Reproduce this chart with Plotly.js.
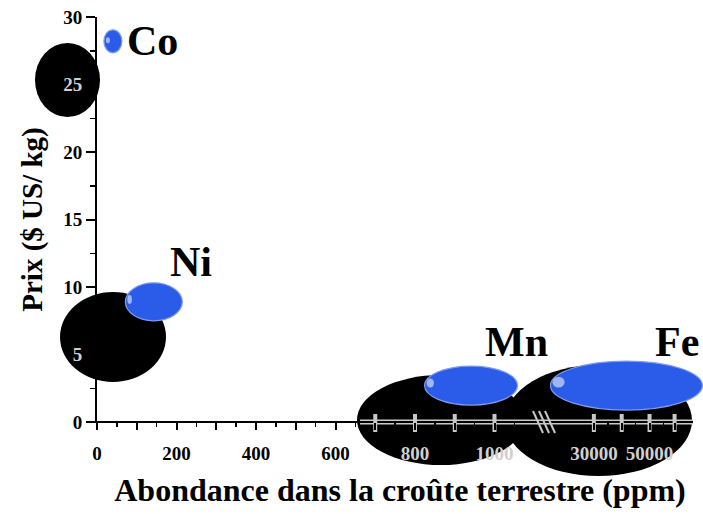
<!DOCTYPE html>
<html>
<head>
<meta charset="utf-8">
<script src="https://cdn.plot.ly/plotly-3.0.1.min.js"></script>
<style>
html,body{margin:0;padding:0;background:#fff;}
#chart{width:703px;height:514px;}
</style>
</head>
<body>
<div id="chart"></div>
<script>
// ---- data ----
const elements = ['Co', 'Ni', 'Mn', 'Fe'];
const abundancePpm = [40, 143, 941, 41700];   // abondance (ppm)
const pricePerKg = [28.2, 8.9, 2.7, 2.7];      // prix ($ US / kg)

const xTickValuesLinear = [0, 200, 400, 600, 800, 1000];
const xTickValuesBroken = [30000, 50000];
const xTickLabels = ['0', '200', '400', '600', '800', '1000', '30000', '50000'];
const yTickValues = [0, 5, 10, 15, 20, 25, 30];
const yTickLabels = ['0', '5', '10', '15', '20', '25', '30'];

// ---- styles (sizes / offsets, not data) ----
const ellipseW = [18, 57, 93, 152];
const ellipseH = [23, 38, 39, 49];
const labelDx = [40, 37, 45, 51];
const labelDy = [0, 40, 44, 44];

// broken x axis: linear part up to ~1100 ppm, then compressed segment
const BREAK_LIMIT = 1100;
const P30000 = 1250, P50000 = 1390;
function axisPos(v) {
  if (v <= BREAK_LIMIT) return v;
  return P30000 + (v - 30000) * (P50000 - P30000) / 20000;
}

const L = 97, R = 0, T = 17, B = 92, W = 703, H = 514;
const plotW = W - L - R;
const pxPerUnit = 0.3975;
const xMax = plotW / pxPerUnit;

function px2paperX(px) { return (px - L) / plotW; }
function px2paperY(py) { return (H - B - py) / (H - T - B); }

// tick arrays
const xTickVals = [];
const xTickText = [];
for (let v = 0; v <= 1000; v += 100) {
  xTickVals.push(v);
  const i = xTickValuesLinear.indexOf(v);
  xTickText.push(i >= 0 ? (v >= 800 ? '<span style="color:#d0d0d0">' + xTickLabels[i] + '</span>' : xTickLabels[i]) : '');
}
[30000, 40000, 50000, 59000].forEach(v => {
  xTickVals.push(axisPos(v));
  const i = xTickValuesBroken.indexOf(v);
  xTickText.push(i >= 0 ? '<span style="color:#d0d0d0">' + xTickLabels[6 + i] + '</span>' : '');
});
const xMinorVals = [];
for (let v = 50; v <= 1050; v += 100) xMinorVals.push(v);
[35000, 45000, 55000].forEach(v => xMinorVals.push(axisPos(v)));

const yTickText = yTickLabels.map(t => (t === '5' || t === '25') ? '<span style="color:#d0d0d0">' + t + '</span>' : t);

// ---- shapes ----
const shapes = [];
// dark shadow blobs (decoration seen in the reference)
const blobs = [
  [35, 43, 100, 117],
  [60, 292, 166, 382],
  [357, 375, 525, 465],
  [505, 365, 692, 476]
];
blobs.forEach(b => shapes.push({
  type: 'circle', xref: 'paper', yref: 'paper', layer: 'below',
  x0: px2paperX(b[0]), x1: px2paperX(b[2]), y0: px2paperY(b[3]), y1: px2paperY(b[1]),
  fillcolor: '#000', line: {width: 0}
}));
// x axis line (ends before the right edge) with light fringe over the dark blob
shapes.push({type: 'line', xref: 'paper', yref: 'paper', layer: 'below',
  x0: px2paperX(360), x1: px2paperX(693), y0: 0, y1: 0, line: {color: '#c8c8c8', width: 5}});
shapes.push({type: 'line', xref: 'paper', yref: 'paper', layer: 'below',
  x0: px2paperX(88), x1: px2paperX(693), y0: 0, y1: 0, line: {color: '#000', width: 2}});
// light tick fringes over the dark blob
for (let v = 700; v <= 1000; v += 100) {
  shapes.push({type: 'line', xref: 'x', yref: 'paper', layer: 'below',
    x0: v, x1: v, y0: px2paperY(414), y1: px2paperY(432), line: {color: '#c8c8c8', width: 4}});
}
[30000, 40000, 50000, 59000].forEach(v => shapes.push({type: 'line', xref: 'x', yref: 'paper', layer: 'below',
  x0: axisPos(v), x1: axisPos(v), y0: px2paperY(414), y1: px2paperY(432), line: {color: '#c8c8c8', width: 4}}));
// axis break mark
[-6, 0, 6].forEach(d => shapes.push({type: 'line', xref: 'paper', yref: 'paper', layer: 'below',
  x0: px2paperX(539 + d), x1: px2paperX(549 + d), y0: px2paperY(411), y1: px2paperY(433),
  line: {color: '#c8c8c8', width: 2}}));

// blue ellipses anchored at the data values
elements.forEach((el, i) => {
  const xa = axisPos(abundancePpm[i]);
  shapes.push({
    type: 'circle', xref: 'x', yref: 'y', xsizemode: 'pixel', ysizemode: 'pixel',
    xanchor: xa, yanchor: pricePerKg[i],
    x0: -ellipseW[i] / 2, x1: ellipseW[i] / 2, y0: -ellipseH[i] / 2, y1: ellipseH[i] / 2,
    fillcolor: '#2b5ce9', line: {color: '#7f9bf0', width: 1.2}, layer: 'above'
  });
  // soft highlight
  shapes.push({
    type: 'circle', xref: 'x', yref: 'y', xsizemode: 'pixel', ysizemode: 'pixel',
    xanchor: xa, yanchor: pricePerKg[i],
    x0: -ellipseW[i] / 2 + 2, x1: -ellipseW[i] / 2 + 2 + Math.max(4, ellipseW[i] * 0.08),
    y0: -2, y1: ellipseH[i] * 0.18,
    fillcolor: 'rgba(255,255,255,0.55)', line: {width: 0}, layer: 'above'
  });
});

// labels
const annotations = elements.map((el, i) => ({
  x: axisPos(abundancePpm[i]), y: pricePerKg[i], xref: 'x', yref: 'y',
  text: el, showarrow: false, xanchor: 'center', yanchor: 'middle',
  xshift: labelDx[i], yshift: labelDy[i],
  font: {family: 'Liberation Serif', size: 42, color: '#000', weight: 'bold'}
}));

const trace = {
  type: 'scatter', mode: 'markers',
  x: abundancePpm.map(axisPos), y: pricePerKg,
  text: elements.map((e, i) => e + ': ' + abundancePpm[i] + ' ppm, ' + pricePerKg[i] + ' $/kg'),
  hoverinfo: 'text',
  marker: {size: 20, color: 'rgba(0,0,0,0)'},
  showlegend: false
};

const tickFont = {family: 'Liberation Serif', size: 19, color: '#000', weight: 'bold'};

const layout = {
  width: W, height: H,
  margin: {l: L, r: R, t: T, b: B, pad: 0},
  paper_bgcolor: '#fff', plot_bgcolor: 'rgba(0,0,0,0)',
  showlegend: false,
  xaxis: {
    range: [0, xMax], showgrid: false, zeroline: false, showline: false,
    tickmode: 'array', tickvals: xTickVals, ticktext: xTickText,
    ticks: 'outside', ticklen: 7, tickwidth: 2, tickcolor: '#000',
    ticklabelstandoff: 7,
    minor: {tickmode: 'array', tickvals: xMinorVals, ticks: 'outside', ticklen: 4, tickwidth: 1.5, tickcolor: '#000'},
    tickfont: tickFont,
    title: {text: 'Abondance dans la croûte terrestre (ppm)', standoff: 15,
      font: {family: 'Liberation Serif', size: 32, color: '#000', weight: 'bold'}},
    fixedrange: true
  },
  yaxis: {
    range: [0, 30], showgrid: false, zeroline: false, showline: true, linecolor: '#000', linewidth: 2,
    tickmode: 'array', tickvals: yTickValues, ticktext: yTickText,
    ticks: 'outside', ticklen: 9, tickwidth: 2, tickcolor: '#000',
    minor: {dtick: 2.5, ticks: 'outside', ticklen: 5, tickwidth: 1.5, tickcolor: '#000'},
    tickfont: tickFont,
    title: {text: 'Prix ($ US/ kg)', standoff: 12,
      font: {family: 'Liberation Serif', size: 29, color: '#000', weight: 'bold'}},
    fixedrange: true
  },
  shapes: shapes,
  annotations: annotations
};

Plotly.newPlot('chart', [trace], layout, {displayModeBar: false, staticPlot: true});
</script>
</body>
</html>
